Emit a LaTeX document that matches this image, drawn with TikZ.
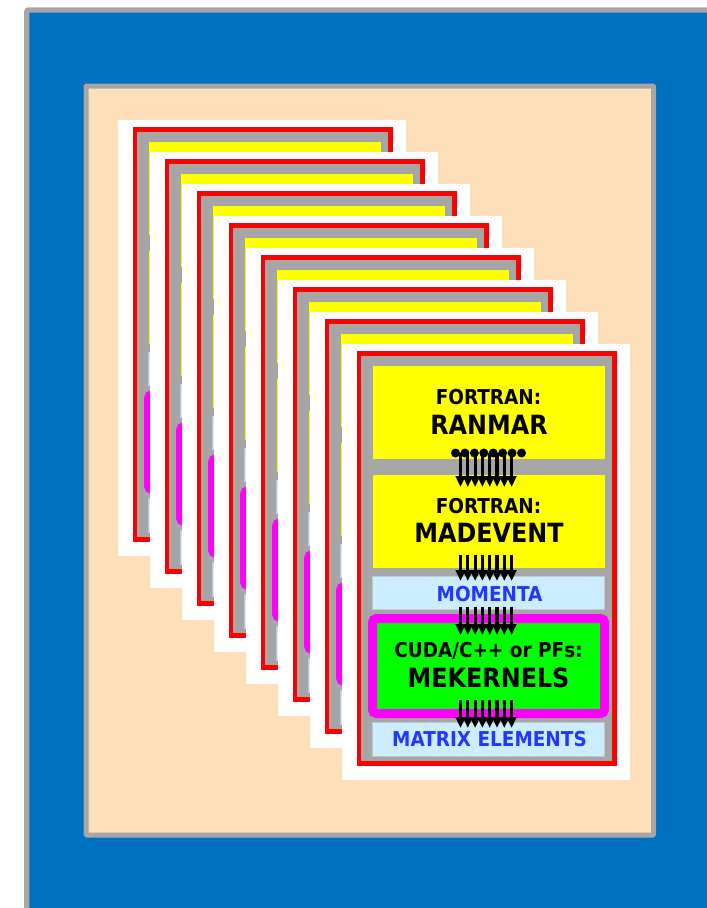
\documentclass[tikz,border=0pt]{standalone}
\usepackage{fontspec}
\newfontfamily\cardfont{DejaVu Sans Condensed}
\usetikzlibrary{arrows.meta,calc}
\definecolor{bgblue}{RGB}{0,112,192}
\definecolor{framegray}{RGB}{166,166,166}
\definecolor{peach}{RGB}{254,223,186}
\definecolor{cred}{RGB}{255,0,0}
\definecolor{cyellow}{RGB}{255,255,0}
\definecolor{cmagenta}{RGB}{255,0,255}
\definecolor{cgreen}{RGB}{0,255,0}
\definecolor{lightb}{RGB}{204,236,255}
\definecolor{lbedge}{RGB}{190,200,210}
\definecolor{textblue}{RGB}{32,56,255}
\begin{document}
\begin{tikzpicture}[x=1pt,y=-1pt,
  box/.style={inner sep=0pt, outer sep=0pt},
  cardbg/.style={box, fill=white, minimum width=288pt, minimum height=436pt},
  cardframe/.style={box, draw=cred, line width=4.7pt, fill=framegray, minimum width=255.5pt, minimum height=410pt},
  yellowbox/.style={box, fill=cyellow, minimum width=232pt, minimum height=93pt},
  lbbox/.style={box, fill=lightb, draw=lbedge, line width=1pt, minimum width=232pt},
  mekbox/.style={box, draw=cmagenta, line width=9pt, fill=cgreen, rounded corners=4pt, minimum width=232pt, minimum height=95pt},
  smalltxt/.style={inner sep=0pt, anchor=base, font=\cardfont\bfseries\fontsize{20.5}{24}\selectfont},
  bigtxt/.style={inner sep=0pt, anchor=base, font=\cardfont\bfseries\fontsize{26.5}{30}\selectfont},
  arr/.style={line width=3.2pt, -{Triangle[length=11pt,width=9.5pt]}},
]
\useasboundingbox (0,0) rectangle (707,908);
\clip (0,0) rectangle (707,908);
% outer blue panel
\draw[line width=5.3pt, draw=framegray, fill=bgblue, rounded corners=2pt] (26.7,10) rectangle (730,930);
% peach panel
\draw[line width=5pt, draw=framegray, fill=peach, rounded corners=1pt] (86,86) rectangle (653.5,835);
% stacked cards, back to front
\foreach \k in {7,6,...,0}{
\begin{scope}[shift={(-32*\k,-32*\k)}]
  \node[cardbg] (bg\k) at (486,562) {};
  \node[cardframe] (frame\k) at (486.75,558.5) {};
  \node[yellowbox] (ranmar\k) at (488.5,412.5) {};
  \node[yellowbox] (madevent\k) at (488.5,521.5) {};
  \node[lbbox, minimum height=33pt] (momenta\k) at (488.5,592.5) {};
  \node[mekbox] (mek\k) at (488.5,666) {};
  \node[lbbox, minimum height=34pt] (matrix\k) at (488.5,739) {};
  \ifnum\k=0
  % texts (only visible on the front card)
  \node[smalltxt] (t1\k) at ($(ranmar\k.north)+(0,38)$) {FORTRAN:};
  \node[bigtxt]   (t2\k) at ($(ranmar\k.north)+(0.5,68)$) {RANMAR};
  \node[smalltxt] (t3\k) at ($(madevent\k.north)+(0,38)$) {FORTRAN:};
  \node[bigtxt]   (t4\k) at ($(madevent\k.north)+(0.5,67)$) {MADEVENT};
  \node[smalltxt, text=textblue] (t5\k) at ($(momenta\k.north)+(1,25)$) {MOMENTA};
  \node[smalltxt] (t6\k) at ($(mek\k.north)+(0,38.5)$) {CUDA/C++ or PFs:};
  \node[bigtxt]   (t7\k) at ($(mek\k.north)+(0,68.5)$) {MEKERNELS};
  \node[smalltxt, text=textblue] (t8\k) at ($(matrix\k.north)+(1,24)$) {MATRIX ELEMENTS};
  % arrows
  \foreach \i in {0,...,7}{
    \draw[arr] ($(ranmar\k.south)+({7.3*\i-28},-6)$) -- ($(madevent\k.north)+({7.3*\i-28},12)$);
    \draw[arr] ($(madevent\k.south)+({7.3*\i-28},-13)$) -- ($(momenta\k.north)+({7.3*\i-28},5)$);
    \draw[arr] ($(momenta\k.south)+({7.3*\i-28},-2)$) -- ($(mek\k.north)+({7.3*\i-28},16.5)$);
    \draw[arr] ($(mek\k.south)+({7.3*\i-28},-13.5)$) -- ($(matrix\k.north)+({7.3*\i-28},6)$);
  }
  \foreach \i in {0,...,7}{
    \fill ($(ranmar\k.south)+({9.43*\i-33},-6)$) circle[radius=4.5pt];
  }
  \fi
\end{scope}
}
\end{tikzpicture}
\end{document}
